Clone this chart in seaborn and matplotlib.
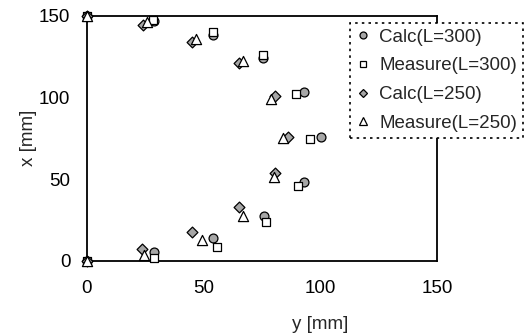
import matplotlib
matplotlib.use("Agg")
import matplotlib.pyplot as plt
from matplotlib.lines import Line2D
import seaborn as sns
import pandas as pd

# Data: horizontal = y [mm], vertical = x [mm]
calc300_y = [0, 28.7, 54.0, 75.7, 93.0, 100.4, 93.0, 75.4, 54.0, 28.7, 0]
calc300_x = [0, 5.3, 13.6, 27.5, 48.4, 76.0, 103.1, 124.2, 138.6, 147.1, 150]

meas300_y = [0, 28.7, 55.5, 76.5, 90.4, 95.4, 89.4, 75.4, 54.0, 28.4, 0]
meas300_x = [0, 1.5, 8.5, 23.5, 45.8, 74.6, 102.3, 125.8, 140.0, 147.6, 150]

calc250_y = [0, 23.4, 45.2, 65.0, 80.7, 86.1, 80.4, 65.2, 44.8, 23.8, 0]
calc250_x = [0, 7.3, 17.7, 32.7, 53.6, 75.7, 101.0, 121.1, 134.0, 144.7, 150]

meas250_y = [0, 24.4, 49.1, 66.9, 80.1, 84.0, 79.0, 66.9, 46.5, 25.5, 0]
meas250_x = [0, 3.5, 12.6, 27.3, 51.5, 75.1, 99.0, 122.1, 135.9, 146.1, 150]

series_names = ["Calc(L=300)", "Measure(L=300)", "Calc(L=250)", "Measure(L=250)"]
ticks = [0, 50, 100, 150]

sns.set_theme(style="white")
plt.rcParams['font.family'] = ['Liberation Sans', 'DejaVu Sans']
FS = 13.5
plt.rcParams['font.size'] = FS

fig = plt.figure(figsize=(5.27, 3.36), dpi=100)
ax = fig.add_axes([87/527, 1-260.5/336, 350/527, 244.5/336])

styles = [
    (calc300_y, calc300_x, 'o', '#a6a6a6', 6.4),
    (meas300_y, meas300_x, 's', 'white', 6.4),
    (calc250_y, calc250_x, 'D', '#a6a6a6', 5.5),
    (meas250_y, meas250_x, '^', 'white', 7.3),
]

handles = []
for (xs, ys, m, fc, ms), name in zip(styles, series_names):
    df = pd.DataFrame({"y": xs, "x": ys})
    sns.scatterplot(data=df, x="y", y="x", ax=ax, marker=m, s=ms**2,
                    color=fc, edgecolor='black', linewidth=0.9,
                    clip_on=False, zorder=3, legend=False)
    handles.append(Line2D([], [], linestyle='none', marker=m, markersize=ms*0.78,
                          markerfacecolor=fc, markeredgecolor='black',
                          markeredgewidth=0.9, label=name))

ax.set_xlim(0, 150)
ax.set_ylim(0, 150)
ax.set_xticks(ticks)
ax.set_yticks(ticks)
ax.tick_params(axis='both', direction='in', length=5, width=0.8, color='#555555',
               labelsize=FS, colors='black')
ax.tick_params(axis='x', pad=14)
ax.tick_params(axis='y', pad=12)
for sp in ax.spines.values():
    sp.set_visible(True)
    sp.set_color('black')
    sp.set_linewidth(1.3)

ax.set_xlabel("y [mm]", fontsize=FS)
ax.set_ylabel("x [mm]", fontsize=FS)
ax.xaxis.set_label_coords((320 - 87) / 350, -(316 - 260.5) / 244.5)
ax.yaxis.set_label_coords(-(87 - 37) / 350, 0.5)

leg = fig.legend(handles=handles, loc='upper left',
                 bbox_to_anchor=(350/527, 1-23/336), bbox_transform=fig.transFigure,
                 frameon=True, fancybox=False, fontsize=FS, borderaxespad=0,
                 borderpad=0.3, handlelength=0.8, handletextpad=0.45,
                 labelspacing=0.62)
fr = leg.get_frame()
fr.set_edgecolor('black')
fr.set_linestyle((0, (1.5, 2.5)))
fr.set_linewidth(1.2)
fr.set_facecolor('white')
fr.set_alpha(1)
leg.set_zorder(10)

fig.savefig("out.png", dpi=100)
